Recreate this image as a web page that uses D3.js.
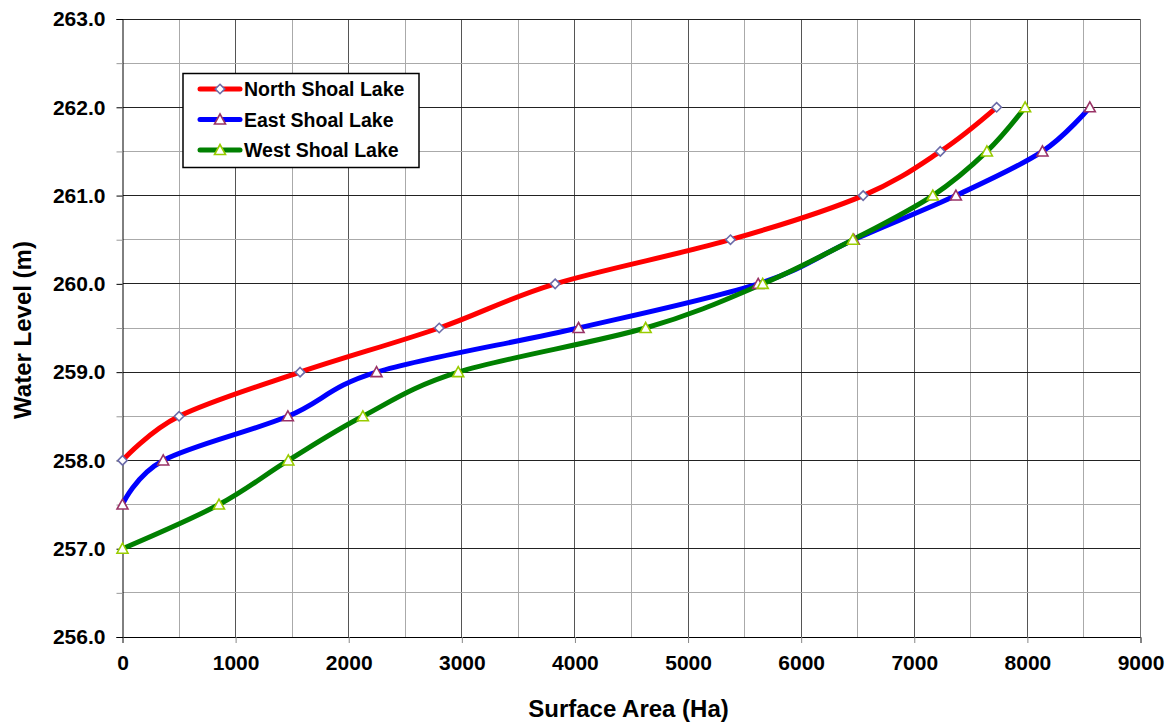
<!DOCTYPE html>
<html><head><meta charset="utf-8">
<script src="https://cdn.jsdelivr.net/npm/d3@7"></script>
<style>
body{margin:0;background:#fff;}
text{font-family:"Liberation Sans",Arial,sans-serif;font-weight:bold;fill:#000;}
</style></head>
<body><svg id="c" width="1168" height="723"></svg>
<script>
const northLevels=[258,258.5,259,259.5,260,260.5,261,261.5,262];
const northArea=[0,500,1570,2800,3825,5375,6548,7230,7728];
const eastLevels=[257.5,258,258.5,259,259.5,260,260.5,261,261.5,262];
const eastArea=[0,360,1462,2246,4032,5620,6465,7368,8133,8552];
const westLevels=[257,257.5,258,258.5,259,259.5,260,260.5,261,261.5,262];
const westArea=[0,853,1466,2125,2968,4625,5660,6457,7164,7642,7980];
const seriesNames=["North Shoal Lake","East Shoal Lake","West Shoal Lake"];
const xTicks=[0,1000,2000,3000,4000,5000,6000,7000,8000,9000];
const yTicks=[256,257,258,259,260,261,262,263];

const svg=d3.select("#c");
const L=122.5,R=1140.5,T=19,B=637;
const x=d3.scaleLinear().domain([0,9000]).range([L,R]);
const y=d3.scaleLinear().domain([256,263]).range([B,T]);

// grid
const g=svg.append("g");
d3.range(500,9000,500).forEach(v=>{
  const major=v%1000===0;
  g.append("line").attr("x1",x(v)).attr("x2",x(v)).attr("y1",T).attr("y2",B)
   .attr("stroke",major?"#555":"#aaa").attr("stroke-width",1).attr("shape-rendering","crispEdges");
});
d3.range(256.5,263.01,0.5).forEach(v=>{
  const major=Math.abs(v-Math.round(v))<1e-6;
  g.append("line").attr("x1",L).attr("x2",R).attr("y1",y(v)).attr("y2",y(v))
   .attr("stroke",major?"#222":"#aaa").attr("stroke-width",1).attr("shape-rendering","crispEdges");
});
g.append("line").attr("x1",R).attr("x2",R).attr("y1",T).attr("y2",B).attr("stroke","#777").attr("shape-rendering","crispEdges");

// axes
const xAxis=svg.append("g").attr("transform",`translate(0,${B})`)
  .call(d3.axisBottom(x).tickValues(xTicks).tickFormat(d3.format("d")).tickSize(6).tickPadding(12));
xAxis.select(".domain").attr("stroke","#000");
xAxis.selectAll(".tick line").attr("stroke","#888");
xAxis.selectAll("text").style("font-size","21px").style("font-family","'Liberation Sans',Arial,sans-serif").style("font-weight","bold");

const yAxis=svg.append("g").attr("transform",`translate(${L},0)`)
  .call(d3.axisLeft(y).tickValues(d3.range(256,263.01,0.5)).tickFormat(d=>Number.isInteger(d)?d.toFixed(1):"").tickSize(6).tickPadding(11));
yAxis.select(".domain").attr("stroke","#000");
yAxis.selectAll(".tick line").attr("stroke",d=>Number.isInteger(d)?"#000":"#999");
yAxis.selectAll("text").style("font-size","21px").style("font-family","'Liberation Sans',Arial,sans-serif").style("font-weight","bold");

// titles
svg.append("text").attr("x",(L+R)/2-3).attr("y",717).attr("text-anchor","middle").style("font-size","24px").text("Surface Area (Ha)");
svg.append("text").attr("transform","translate(31,330) rotate(-90)").attr("text-anchor","middle").style("font-size","24px").text("Water Level (m)");

// series
const series=[
  {name:seriesNames[0],xs:northArea,ys:northLevels,color:"#ff0000",mstroke:"#6b6ba8",marker:"diamond"},
  {name:seriesNames[1],xs:eastArea,ys:eastLevels,color:"#0000ff",mstroke:"#993366",marker:"triangle"},
  {name:seriesNames[2],xs:westArea,ys:westLevels,color:"#008000",mstroke:"#99cc00",marker:"triangle"}
];
const line=d3.line().x(d=>x(d[0])).y(d=>y(d[1])).curve(d3.curveCardinal.tension(0));
const diamond="M0,-4.7L4.7,0L0,4.7L-4.7,0Z";
const tri="M0,-5.5L5.5,4.5L-5.5,4.5Z";
function marker(sel,s,cx,cy){
  sel.append("path").attr("d",s.marker==="diamond"?diamond:tri)
   .attr("transform",`translate(${cx},${cy})`).attr("fill","#fff").attr("stroke",s.mstroke).attr("stroke-width",1.6);
}
series.forEach(s=>{
  const pts=s.xs.map((v,i)=>[v,s.ys[i]]);
  svg.append("path").datum(pts).attr("d",line).attr("fill","none").attr("stroke",s.color).attr("stroke-width",5).attr("stroke-linejoin","round");
});
series.forEach(s=>{
  const mg=svg.append("g");
  s.xs.forEach((v,i)=>marker(mg,s,x(v),y(s.ys[i])));
});

// legend
const lg=svg.append("g");
lg.append("rect").attr("x",183).attr("y",73.5).attr("width",236).attr("height",94).attr("fill","#fff").attr("stroke","#000").attr("stroke-width",1.5);
series.forEach((s,i)=>{
  const cy=89+i*30.5;
  lg.append("line").attr("x1",200).attr("x2",240).attr("y1",cy).attr("y2",cy).attr("stroke",s.color).attr("stroke-width",5).attr("stroke-linecap","round");
  marker(lg,s,220,cy);
  lg.append("text").attr("x",244).attr("y",cy+7).style("font-size","19.5px").text(s.name);
});
</script></body></html>
